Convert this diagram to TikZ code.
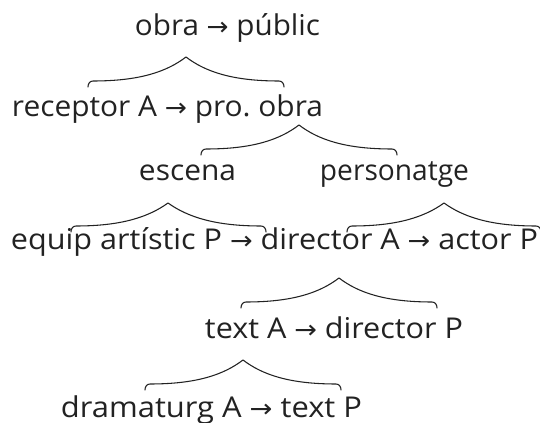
\documentclass[tikz,border=0pt]{standalone}
\usepackage{fontspec}
\usepackage{graphicx}
\setmainfont{Open Sans}
\newfontfamily\arrowfont{DejaVu Sans}
\usetikzlibrary{calc}
\frenchspacing
\definecolor{ink}{HTML}{222222}
% thin arrow glyph between the terms
\newcommand\toarrow{{\arrowfont\fontsize{19pt}{19pt}\selectfont →}}
% set a line of text to a given width, keeping its height
\newcommand\setwidth[2]{\resizebox{#1}{\height}{#2}}
\tikzset{
  term/.style={inner sep=0pt, anchor=base, text=ink,
    font=\fontsize{21.5pt}{25pt}\selectfont},
  bracestroke/.style={draw=ink, line width=0.8pt, line cap=round, line join=round},
}
% curly brace from left end #1 to right end #2, tip #3 pointing up
\newcommand\upbrace[3]{%
  \draw[bracestroke] let \p1=(#1), \p2=(#2), \p3=(#3) in
    (\p1) .. controls (\x1,\y1+2.4pt) and (\x1+1.3pt,\y1+4.5pt) .. (\x1+3.75pt,\y1+4.5pt)
    .. controls ({\x1+0.52*(\x3-\x1)},\y1+4.5pt) and ({\x3-0.2*(\x3-\x1)},\y1+11.25pt) .. (\p3)
    .. controls ({\x3+0.2*(\x2-\x3)},\y2+11.25pt) and ({\x2-0.52*(\x2-\x3)},\y2+4.5pt) .. (\x2-3.75pt,\y2+4.5pt)
    .. controls (\x2-1.3pt,\y2+4.5pt) and (\x2,\y2+2.4pt) .. (\p2);
}
\begin{document}
\begin{tikzpicture}[x=0.75pt, y=-0.75pt]
  \useasboundingbox (0,0) rectangle (540,423);

  % terms, placed on their baselines
  \node[term] (obra)     at (227.5,36)  {\setwidth{138.75pt}{obra \toarrow{} públic}};
  \node[term] (receptor) at (167.5,117) {\setwidth{233.25pt}{receptor A \toarrow{} pro. obra}};
  \node[term] (escena)   at (187.5,181) {\setwidth{72.75pt}{escena}};
  \node[term] (perso)    at (394.5,181) {\setwidth{111.75pt}{personatge}};
  \node[term] (equip)    at (274.5,250) {\setwidth{395.25pt}{equip artístic P \toarrow{} director A \toarrow{} actor P}};
  \node[term] (textA)    at (334,339)   {\setwidth{193.5pt}{text A \toarrow{} director P}};
  \node[term] (drama)    at (211.5,418) {\setwidth{225.75pt}{dramaturg A \toarrow{} text P}};

  % brace end points and tips
  \coordinate (b1l) at (88,87);   \coordinate (b1r) at (284,87);  \coordinate (b1t) at (186,57);
  \coordinate (b2l) at (201,155); \coordinate (b2r) at (397,155); \coordinate (b2t) at (299,125);
  \coordinate (b3l) at (71,232);  \coordinate (b3r) at (266,232); \coordinate (b3t) at (168,203);
  \coordinate (b4l) at (347,232); \coordinate (b4r) at (541,232); \coordinate (b4t) at (444,203);
  \coordinate (b5l) at (241,308); \coordinate (b5r) at (437,308); \coordinate (b5t) at (339,278);
  \coordinate (b6l) at (145,390); \coordinate (b6r) at (341,390); \coordinate (b6t) at (243,360);

  \upbrace{b1l}{b1r}{b1t}
  \upbrace{b2l}{b2r}{b2t}
  \upbrace{b3l}{b3r}{b3t}
  \upbrace{b4l}{b4r}{b4t}
  \upbrace{b5l}{b5r}{b5t}
  \upbrace{b6l}{b6r}{b6t}
\end{tikzpicture}
\end{document}
